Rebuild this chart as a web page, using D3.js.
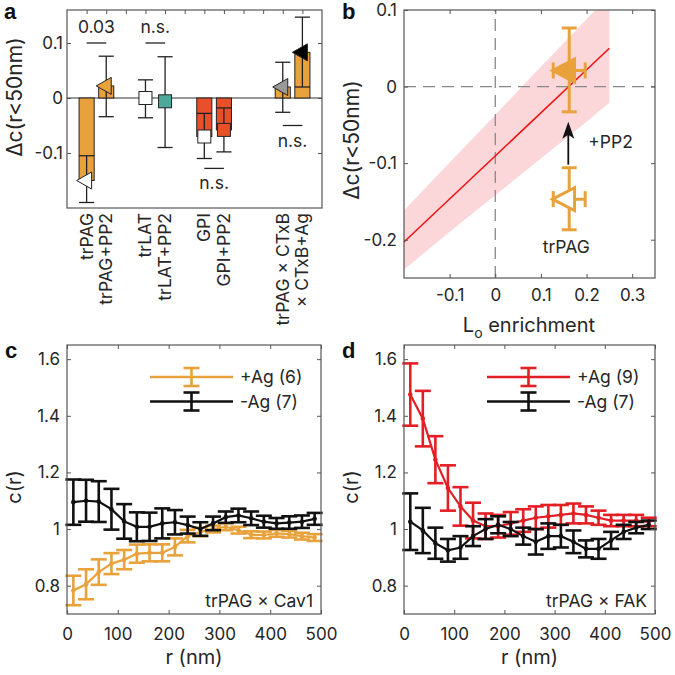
<!DOCTYPE html>
<html><head><meta charset="utf-8">
<script src="https://cdn.jsdelivr.net/npm/d3@7"></script>
<style>body{margin:0;background:#fff}</style>
</head><body>
<svg id="chart" width="675" height="675" xmlns="http://www.w3.org/2000/svg"></svg>
<script>
// ================= DATA =================
// Panel a
const aCategories = ["trPAG", "trPAG+PP2", "trLAT", "trLAT+PP2", "GPI", "GPI+PP2", "trPAG \u00d7 CTxB", "\u00d7 CTxB+Ag"];
const aSlots = [1, 2, 4, 5, 7, 8, 11, 12];
const aValues = [-0.15, 0.022, 0.0, -0.006, -0.07, -0.058, 0.02, 0.083];
const aErrLow = [-0.19, -0.034, -0.036, -0.09, -0.11, -0.098, -0.026, 0.02];
const aErrHigh = [-0.105, 0.076, 0.033, 0.075, -0.028, -0.018, 0.065, 0.147];
const aYTicks = [-0.1, 0, 0.1];
const aSigLabels = ["0.03", "n.s.", "n.s.", "n.s."];
const aSigFrom = [1, 4, 7, 11];
const aSigTo = [2, 5, 8, 12];
const aSigY = [0.1, 0.1, -0.128, -0.05];
const aSigAbove = [true, true, false, false];

// Panel b
const bFitX = [-0.2, 0.25];
const bFitY = [-0.203, 0.05];
const bBandX = [-0.2, -0.1, 0, 0.1, 0.2, 0.25];
const bBandLow = [-0.239, -0.19, -0.142, -0.094, -0.046, -0.021];
const bBandHigh = [-0.162, -0.099, -0.037, 0.026, 0.088, 0.119];
const bPointLabels = ["trPAG", "+PP2"];
const bPointX = [0.162, 0.162];
const bPointY = [-0.147, 0.021];
const bPointXLo = [0.127, 0.127];
const bPointXHi = [0.197, 0.197];
const bPointYLo = [-0.187, -0.033];
const bPointYHi = [-0.106, 0.0765];
const bArrowFrom = [0.16, -0.102];
const bArrowTo = [0.16, -0.046];
const bXTicks = [-0.1, 0, 0.1, 0.2, 0.3];
const bYTicks = [-0.2, -0.1, 0, 0.1];

// Panels c and d
const rNm = [12.5, 37.5, 62.5, 87.5, 112.5, 137.5, 162.5, 187.5, 212.5, 237.5,
             262.5, 287.5, 312.5, 337.5, 362.5, 387.5, 412.5, 437.5, 462.5, 487.5];
const cPlusAg = [0.783, 0.805, 0.848, 0.878, 0.892, 0.913, 0.916, 0.916, 0.937, 0.975,
                 0.99, 1.0, 1.008, 0.996, 0.98, 0.979, 0.985, 0.982, 0.975, 0.97];
const cPlusAgErr = [0.052, 0.053, 0.045, 0.037, 0.034, 0.032, 0.03, 0.03, 0.03, 0.022,
                    0.015, 0.012, 0.012, 0.012, 0.012, 0.012, 0.012, 0.012, 0.012, 0.012];
const cMinusAg = [1.095, 1.10, 1.097, 1.07, 1.027, 1.008, 1.008, 1.02, 1.024, 1.014,
                  1.0, 1.02, 1.042, 1.048, 1.038, 1.026, 1.02, 1.023, 1.026, 1.036];
const cMinusAgErr = [0.08, 0.074, 0.072, 0.072, 0.061, 0.051, 0.05, 0.053, 0.043, 0.03,
                     0.024, 0.024, 0.02, 0.024, 0.024, 0.021, 0.019, 0.022, 0.022, 0.021];
const dPlusAg = [1.475, 1.39, 1.245, 1.145, 1.08, 1.03, 1.01, 1.01, 1.02, 1.03,
                 1.04, 1.045, 1.05, 1.055, 1.05, 1.04, 1.03, 1.03, 1.03, 1.025];
const dPlusAgErr = [0.11, 0.098, 0.083, 0.08, 0.068, 0.063, 0.045, 0.04, 0.04, 0.04,
                    0.04, 0.04, 0.035, 0.035, 0.03, 0.025, 0.02, 0.02, 0.02, 0.015];
const dMinusAg = [1.026, 0.995, 0.95, 0.925, 0.935, 0.975, 1.0, 1.015, 1.0, 0.975,
                  0.955, 0.975, 0.975, 0.955, 0.93, 0.93, 0.96, 0.99, 1.005, 1.015];
const dMinusAgErr = [0.1, 0.08, 0.055, 0.04, 0.04, 0.035, 0.035, 0.03, 0.025, 0.03,
                     0.045, 0.045, 0.04, 0.04, 0.03, 0.035, 0.03, 0.025, 0.02, 0.015];
const cdXTicks = [0, 100, 200, 300, 400, 500];
const cdYTicks = [0.8, 1, 1.2, 1.4, 1.6];
const cLegend = ["+Ag (6)", "-Ag (7)"];
const dLegend = ["+Ag (9)", "-Ag (7)"];
const cNote = "trPAG \u00d7 Cav1";
const dNote = "trPAG \u00d7 FAK";

// ================= STYLE =================
const FONT = "Inter, 'Liberation Sans', Arial, sans-serif";
const TXT = "#262626";
const AXC = "#555";
const ORANGE = "#e9a23b";
const REDBAR = "#e8502a";
const TEAL = "#4fa99a";
const RED = "#e31e24";
const aBarColors = [ORANGE, ORANGE, null, null, REDBAR, REDBAR, ORANGE, ORANGE];
const aMarkerShape = ["tri", "tri", "sq", "sq", "sq", "sq", "tri", "tri"];
const aMarkerFill = ["#fff", ORANGE, "#fff", TEAL, "#fff", REDBAR, "#999", "#000"];

const svg = d3.select("#chart");
svg.append("rect").attr("width", 675).attr("height", 675).attr("fill", "#fff");

const fmt = d => String(d);

function styleAxis(g, size) {
  g.select(".domain").remove();
  g.selectAll(".tick line").attr("stroke", AXC).attr("stroke-width", 1);
  g.selectAll("text").attr("font-family", FONT).attr("font-size", size || 17).attr("fill", TXT);
}
function frame(g, x, y) {
  const [x0, x1] = x.range(), [y0, y1] = y.range();
  g.append("rect").attr("x", x0).attr("y", y1).attr("width", x1 - x0).attr("height", y0 - y1)
    .attr("fill", "none").attr("stroke", AXC).attr("stroke-width", 1.2);
}
function triPath(cx, cy, w, h) {
  return `M${cx - 2 * w / 3},${cy}L${cx + w / 3},${cy - h / 2}L${cx + w / 3},${cy + h / 2}Z`;
}
function panelLabel(t, x, y) {
  svg.append("text").attr("x", x).attr("y", y).text(t)
    .attr("font-family", "'Liberation Sans', Arial, sans-serif").attr("font-weight", "bold")
    .attr("font-size", 22).attr("fill", "#111");
}
function yLabel(text, x, y, size) {
  return svg.append("text").attr("transform", `translate(${x},${y}) rotate(-90)`)
    .attr("text-anchor", "middle").attr("font-family", FONT).attr("font-size", size).attr("fill", TXT).text(text);
}

// ================= PANEL A =================
{
  const x = d3.scaleLinear().domain([0, 13]).range([67, 322]);
  const y = d3.scaleLinear().domain([-0.2, 0.16]).range([208, 10]);
  const g = svg.append("g");
  const half = 0.385;
  g.append("line").attr("x1", x(0)).attr("x2", x(13)).attr("y1", y(0)).attr("y2", y(0))
    .attr("stroke", "#333").attr("stroke-width", 1);
  aSlots.forEach((p, i) => {
    const v = aValues[i];
    if (aBarColors[i]) {
      g.append("rect").attr("x", x(p - half)).attr("width", x(p + half) - x(p - half))
        .attr("y", Math.min(y(v), y(0))).attr("height", Math.abs(y(v) - y(0)))
        .attr("fill", aBarColors[i]).attr("stroke", "#222").attr("stroke-width", 1);
    }
    const cx = x(p), cw = x(p + half) - x(p - half);
    g.append("line").attr("x1", cx).attr("x2", cx).attr("y1", y(aErrLow[i])).attr("y2", y(aErrHigh[i]))
      .attr("stroke", "#222").attr("stroke-width", 1.3);
    [aErrLow[i], aErrHigh[i]].forEach(e => g.append("line").attr("x1", cx - cw / 2).attr("x2", cx + cw / 2)
      .attr("y1", y(e)).attr("y2", y(e)).attr("stroke", "#222").attr("stroke-width", 1.3));
    if (aMarkerShape[i] === "tri") {
      g.append("path").attr("d", triPath(cx, y(v), 15, 17)).attr("fill", aMarkerFill[i])
        .attr("stroke", "#222").attr("stroke-width", 1);
    } else {
      g.append("rect").attr("x", cx - 6.5).attr("y", y(v) - 6.5).attr("width", 13).attr("height", 13)
        .attr("fill", aMarkerFill[i]).attr("stroke", "#222").attr("stroke-width", 1);
    }
  });
  // significance
  aSigLabels.forEach((t, i) => {
    const yy = y(aSigY[i]);
    g.append("line").attr("x1", x(aSigFrom[i])).attr("x2", x(aSigTo[i])).attr("y1", yy).attr("y2", yy)
      .attr("stroke", "#222").attr("stroke-width", 1.3);
    g.append("text").attr("x", (x(aSigFrom[i]) + x(aSigTo[i])) / 2).attr("y", aSigAbove[i] ? yy - 10 : yy + 21)
      .attr("text-anchor", "middle").attr("font-family", FONT).attr("font-size", 17.5).attr("fill", TXT).text(t);
  });
  frame(g, x, y);
  const la = g.append("g").attr("transform", `translate(${x(0)},0)`)
    .call(d3.axisLeft(y).tickValues(aYTicks).tickSize(-4).tickPadding(4).tickFormat(fmt));
  styleAxis(la);
  const ra = g.append("g").attr("transform", `translate(${x(13)},0)`)
    .call(d3.axisRight(y).tickValues(aYTicks).tickSize(-4).tickFormat(""));
  styleAxis(ra);
  const ta = g.append("g").attr("transform", `translate(0,${y(0.16)})`)
    .call(d3.axisTop(x).tickValues(d3.range(1, 13)).tickSize(-4).tickFormat(""));
  styleAxis(ta);
  // category labels
  aCategories.forEach((c, i) => {
    g.append("text").attr("transform", `translate(${x(aSlots[i]) + 6},213) rotate(-90)`)
      .attr("text-anchor", "end").attr("font-family", FONT).attr("font-size", 17.5).attr("fill", TXT).text(c);
  });
  yLabel("\u0394c(r<50nm)", 22, 97, 21);
  panelLabel("a", 4, 19);
}

// ================= PANEL B =================
{
  const x = d3.scaleLinear().domain([-0.2, 0.35]).range([404, 655]);
  const y = d3.scaleLinear().domain([-0.25, 0.1]).range([278, 10]);
  const g = svg.append("g");
  svg.append("clipPath").attr("id", "clipb").append("rect")
    .attr("x", 404).attr("y", 10).attr("width", 251).attr("height", 268);
  const band = bBandX.map((v, i) => [v, bBandLow[i], bBandHigh[i]]);
  g.append("path").datum(band).attr("clip-path", "url(#clipb)")
    .attr("d", d3.area().x(d => x(d[0])).y0(d => y(d[1])).y1(d => y(d[2])).curve(d3.curveMonotoneX))
    .attr("fill", "#fbd7da").attr("stroke", "none");
  // dashed zero lines
  g.append("line").attr("x1", x(-0.2)).attr("x2", x(0.35)).attr("y1", y(0)).attr("y2", y(0))
    .attr("stroke", "#888").attr("stroke-width", 1.3).attr("stroke-dasharray", "12,7");
  g.append("line").attr("x1", x(0)).attr("x2", x(0)).attr("y1", y(-0.25)).attr("y2", y(0.1))
    .attr("stroke", "#888").attr("stroke-width", 1.3).attr("stroke-dasharray", "12,7");
  g.append("path").datum(bFitX.map((v, i) => [v, bFitY[i]]))
    .attr("d", d3.line().x(d => x(d[0])).y(d => y(d[1]))).attr("fill", "none")
    .attr("stroke", "#f01010").attr("stroke-width", 1.5);
  // points
  bPointX.forEach((px, i) => {
    const cx = x(px), cy = y(bPointY[i]);
    const ln = (x1, y1, x2, y2) => g.append("line").attr("x1", x1).attr("y1", y1).attr("x2", x2).attr("y2", y2)
      .attr("stroke", ORANGE).attr("stroke-width", 3);
    ln(cx, y(bPointYLo[i]), cx, y(bPointYHi[i]));
    ln(cx - 7.5, y(bPointYLo[i]), cx + 7.5, y(bPointYLo[i]));
    ln(cx - 7.5, y(bPointYHi[i]), cx + 7.5, y(bPointYHi[i]));
    ln(x(bPointXLo[i]), cy, x(bPointXHi[i]), cy);
    ln(x(bPointXLo[i]), cy - 8, x(bPointXLo[i]), cy + 8);
    ln(x(bPointXHi[i]), cy - 8, x(bPointXHi[i]), cy + 8);
    g.append("path").attr("d", triPath(cx - 2, cy, 22, 23))
      .attr("fill", i === 1 ? ORANGE : "#fff").attr("stroke", ORANGE).attr("stroke-width", 3)
      .attr("stroke-linejoin", "miter");
  });
  // arrow
  const ax0 = x(bArrowFrom[0]), ay0 = y(bArrowFrom[1]), ay1 = y(bArrowTo[1]);
  g.append("line").attr("x1", ax0).attr("x2", ax0).attr("y1", ay0).attr("y2", ay1 + 10)
    .attr("stroke", "#111").attr("stroke-width", 1.8);
  g.append("path").attr("d", `M${ax0},${ay1}L${ax0 - 6},${ay1 + 17}L${ax0},${ay1 + 13}L${ax0 + 6},${ay1 + 17}Z`)
    .attr("fill", "#111");
  g.append("text").attr("x", x(bPointX[0]) + 19).attr("y", 148).attr("font-family", FONT)
    .attr("font-size", 17.5).attr("fill", TXT).text(bPointLabels[1]);
  g.append("text").attr("x", x(bPointX[0]) - 3).attr("y", 253).attr("text-anchor", "middle").attr("font-family", FONT)
    .attr("font-size", 17.5).attr("fill", TXT).text(bPointLabels[0]);
  frame(g, x, y);
  styleAxis(g.append("g").attr("transform", `translate(404,0)`)
    .call(d3.axisLeft(y).tickValues(bYTicks).tickSize(-4).tickPadding(7).tickFormat(fmt)));
  styleAxis(g.append("g").attr("transform", `translate(655,0)`)
    .call(d3.axisRight(y).tickValues(bYTicks).tickSize(-4).tickFormat("")));
  styleAxis(g.append("g").attr("transform", `translate(0,278)`)
    .call(d3.axisBottom(x).tickValues(bXTicks).tickSize(-4).tickPadding(11).tickFormat(fmt)));
  styleAxis(g.append("g").attr("transform", `translate(0,10)`)
    .call(d3.axisTop(x).tickValues(bXTicks).tickSize(-4).tickFormat("")));
  const xl = svg.append("text").attr("x", 529).attr("y", 332).attr("text-anchor", "middle")
    .attr("font-family", FONT).attr("font-size", 20).attr("fill", TXT);
  xl.append("tspan").text("L");
  xl.append("tspan").attr("dy", 6).attr("font-size", 14).text("o");
  xl.append("tspan").attr("dy", -6).text(" enrichment");
  yLabel("\u0394c(r<50nm)", 359, 140, 21);
  panelLabel("b", 342, 19);
}

// ================= PANELS C, D =================
function rdfPanel(x0, x1, series, legend, note, label) {
  const x = d3.scaleLinear().domain([0, 500]).range([x0, x1]);
  const y = d3.scaleLinear().domain([0.7, 1.65]).range([614, 345]);
  const g = svg.append("g");
  series.forEach(s => {
    g.append("path").datum(s.v).attr("d", d3.line().x((d, i) => x(rNm[i])).y(d => y(d)))
      .attr("fill", "none").attr("stroke", s.c).attr("stroke-width", 2.2);
    s.v.forEach((v, i) => {
      const cx = x(rNm[i]), lo = y(v - s.e[i]), hi = y(v + s.e[i]);
      g.append("line").attr("x1", cx).attr("x2", cx).attr("y1", lo).attr("y2", hi).attr("stroke", s.c).attr("stroke-width", 2.6);
      [lo, hi].forEach(yy => g.append("line").attr("x1", cx - 8).attr("x2", cx + 8).attr("y1", yy).attr("y2", yy)
        .attr("stroke", s.c).attr("stroke-width", 2.6));
      g.append("circle").attr("cx", cx).attr("cy", y(v)).attr("r", 2.3).attr("fill", s.c);
    });
  });
  // legend
  const lx0 = x0 + 83, lx1 = x0 + 166;
  series.forEach((s, i) => {
    const ly = 377 + i * 24.5, lc = (lx0 + lx1) / 2;
    g.append("line").attr("x1", lx0).attr("x2", lx1).attr("y1", ly).attr("y2", ly).attr("stroke", s.c).attr("stroke-width", 2.4);
    g.append("line").attr("x1", lc).attr("x2", lc).attr("y1", ly - 9).attr("y2", ly + 9).attr("stroke", s.c).attr("stroke-width", 2.6);
    [ly - 9, ly + 9].forEach(yy => g.append("line").attr("x1", lc - 8).attr("x2", lc + 8).attr("y1", yy).attr("y2", yy)
      .attr("stroke", s.c).attr("stroke-width", 2.6));
    g.append("text").attr("x", lx1 + 7).attr("y", ly + 6).attr("font-family", FONT).attr("font-size", 17.5)
      .attr("fill", TXT).text(legend[i]);
  });
  g.append("text").attr("x", x1 - 8).attr("y", 607).attr("text-anchor", "end").attr("font-family", FONT)
    .attr("font-size", 17.5).attr("fill", TXT).text(note);
  frame(g, x, y);
  styleAxis(g.append("g").attr("transform", `translate(${x0},0)`)
    .call(d3.axisLeft(y).tickValues(cdYTicks).tickSize(-4).tickPadding(7).tickFormat(fmt)));
  styleAxis(g.append("g").attr("transform", `translate(${x1},0)`)
    .call(d3.axisRight(y).tickValues(cdYTicks).tickSize(-4).tickFormat("")));
  styleAxis(g.append("g").attr("transform", `translate(0,614)`)
    .call(d3.axisBottom(x).tickValues(cdXTicks).tickSize(-4).tickPadding(14).tickFormat(fmt)));
  styleAxis(g.append("g").attr("transform", `translate(0,345)`)
    .call(d3.axisTop(x).tickValues(cdXTicks).tickSize(-4).tickFormat("")));
  svg.append("text").attr("x", (x0 + x1) / 2).attr("y", 664).attr("text-anchor", "middle")
    .attr("font-family", FONT).attr("font-size", 20).attr("fill", TXT).text("r (nm)");
  yLabel("c(r)", x0 - 46, 487, 20);
  panelLabel(label, x0 - 62, 358);
}
rdfPanel(67, 321, [{ v: cPlusAg, e: cPlusAgErr, c: ORANGE }, { v: cMinusAg, e: cMinusAgErr, c: "#111" }],
  cLegend, cNote, "c");
rdfPanel(404, 655, [{ v: dPlusAg, e: dPlusAgErr, c: RED }, { v: dMinusAg, e: dMinusAgErr, c: "#111" }],
  dLegend, dNote, "d");
</script>
</body></html>
